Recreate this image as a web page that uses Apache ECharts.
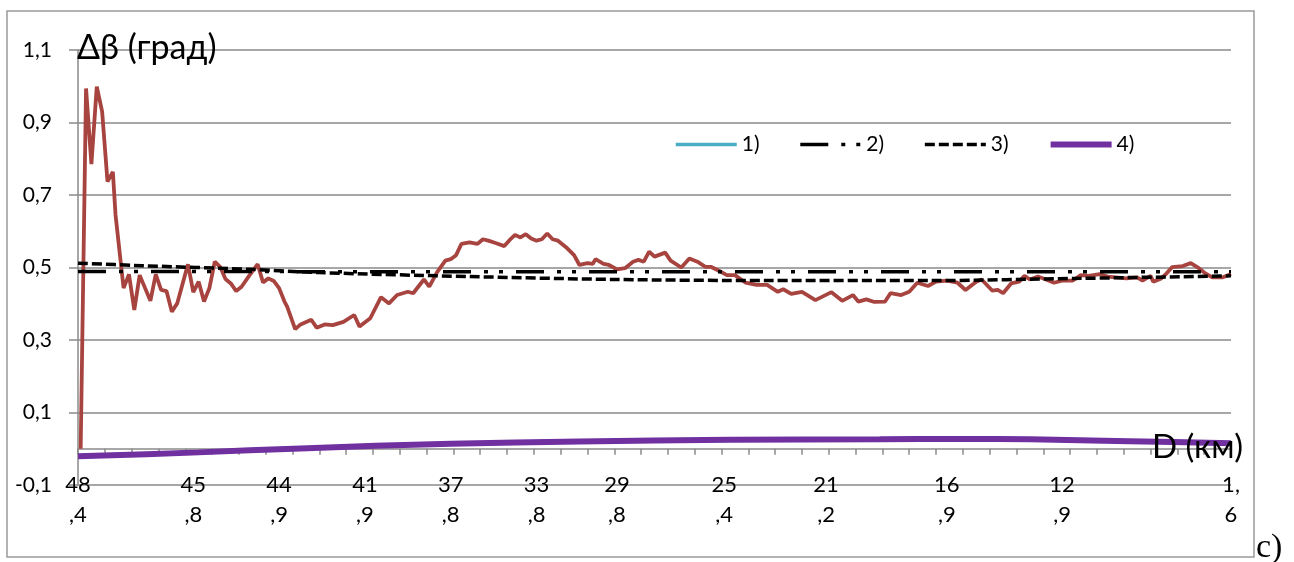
<!DOCTYPE html>
<html>
<head>
<meta charset="utf-8">
<script src="https://cdn.jsdelivr.net/npm/echarts@6/dist/echarts.min.js"></script>
<style>
html,body{margin:0;padding:0;background:#fff;}
#c{width:1294px;height:562px;}
</style>
</head>
<body>
<div id="c"></div>
<script>
// Category axis: sample index along distance D (48,4 km -> 1,6 km)
const nCats = 431;
const dLabels = ['48,4','45,8','44,9','41,9','37,8','33,8','29,8','25,4','21,2','16,9','12,9','1,6'];
const dLabelIdx = [0, 43, 75, 107, 139, 171, 201, 241, 279, 324, 367, 430];
const yTicks = [-0.1, 0.1, 0.3, 0.5, 0.7, 0.9, 1.1];

// Measured Δβ (red), [index, value]
const measured = [
  [1,0.0],[3,0.994],[5,0.785],[7,0.999],[9,0.930],[11,0.737],[13,0.764],[14,0.645],[17,0.443],[19,0.481],
  [21,0.383],[23,0.479],[24,0.461],[27,0.408],[29,0.481],[31,0.438],[33,0.435],[35,0.378],[37,0.401],[41,0.509],
  [43,0.432],[45,0.461],[47,0.406],[49,0.443],[51,0.516],[53,0.502],[55,0.468],[57,0.456],[59,0.435],[61,0.447],
  [64,0.479],[67,0.509],[69,0.459],[71,0.470],[73,0.463],[75,0.443],[77,0.406],[78,0.392],[81,0.330],[83,0.343],
  [87,0.356],[89,0.334],[92,0.343],[95,0.341],[99,0.350],[103,0.369],[105,0.337],[109,0.360],[113,0.418],[116,0.401],
  [119,0.424],[123,0.433],[125,0.429],[129,0.467],[131,0.447],[134,0.488],[137,0.519],[139,0.523],[141,0.534],[143,0.565],
  [146,0.569],[149,0.565],[151,0.578],[153,0.574],[156,0.567],[159,0.559],[161,0.576],[163,0.590],[165,0.583],[167,0.592],
  [169,0.580],[171,0.574],[173,0.578],[175,0.594],[177,0.578],[179,0.574],[182,0.556],[185,0.534],[187,0.507],[190,0.512],
  [192,0.510],[193,0.523],[196,0.510],[198,0.507],[201,0.495],[204,0.498],[207,0.516],[209,0.521],[211,0.516],[213,0.544],
  [215,0.530],[219,0.541],[221,0.519],[225,0.500],[228,0.525],[231,0.516],[234,0.502],[236,0.502],[239,0.491],[242,0.479],
  [245,0.479],[249,0.458],[253,0.452],[257,0.452],[261,0.433],[263,0.440],[266,0.427],[270,0.433],[275,0.410],[281,0.432],
  [285,0.408],[289,0.424],[291,0.406],[294,0.412],[297,0.405],[301,0.406],[303,0.429],[307,0.424],[310,0.433],[313,0.458],
  [317,0.449],[320,0.461],[324,0.464],[328,0.458],[331,0.438],[335,0.461],[337,0.467],[341,0.436],[343,0.438],[345,0.429],
  [348,0.456],[351,0.461],[353,0.477],[355,0.467],[358,0.475],[361,0.467],[364,0.458],[367,0.464],[371,0.464],[374,0.479],
  [377,0.477],[381,0.482],[384,0.475],[387,0.473],[391,0.470],[395,0.473],[397,0.464],[400,0.477],[401,0.461],[404,0.470],
  [406,0.484],[408,0.501],[412,0.504],[415,0.512],[418,0.498],[420,0.486],[423,0.473],[427,0.473],[430,0.482]
];
// Series 1) (teal) - not visible in the plot area
const series1 = [];
// Series 2) dash-dot-dot
const series2 = [[0,0.489],[215,0.488],[430,0.488]];
// Series 3) dashed
const series3 = [[0,0.512],[24,0.505],[64,0.495],[90,0.486],[146,0.475],[200,0.467],[258,0.464],[318,0.464],[374,0.470],[430,0.477]];
// Series 4) purple
const series4 = [[0,-0.021],[45,-0.010],[83,0.001],[139,0.014],[187,0.020],[243,0.025],[299,0.026],[329,0.027],[355,0.026],[392,0.021],[430,0.015]];

const categories = Array.from({length: nCats}, (_, i) => String(i));
const FONT = 'Lato';
const GRID = '#8a8a8a';

const chart = echarts.init(document.getElementById('c'), null, {renderer: 'canvas'});
chart.setOption({
  animation: false,
  backgroundColor: '#fff',
  grid: {left: 78, right: 63, top: 50, bottom: 77, containLabel: false, outerBoundsMode: 'none'},
  legend: {
    data: ['1)', '2)', '3)', '4)'],
    left: 669, top: 129, padding: 5,
    itemWidth: 61, itemHeight: 14, itemGap: 39,
    itemStyle: {opacity: 0, color: 'rgba(0,0,0,0)', borderWidth: 0},
    lineStyle: {width: 'inherit'},
    textStyle: {fontFamily: FONT, fontSize: 21, color: '#000'}
  },
  xAxis: {
    type: 'category',
    data: categories,
    boundaryGap: false,
    axisLine: {onZero: true, lineStyle: {color: GRID, width: 1.5}},
    axisTick: {show: true, interval: 9, length: 6, lineStyle: {color: GRID, width: 1.5}},
    axisLabel: {
      interval: (i) => dLabelIdx.indexOf(i) >= 0,
      formatter: (v, i) => {
        const k = dLabelIdx.indexOf(i);
        if (k < 0) return '';
        const s = dLabels[k];
        return s.slice(0, 2) + '\n' + s.slice(2);
      },
      margin: -15,
      fontFamily: FONT, fontSize: 22, color: '#000', lineHeight: 30,
      showMinLabel: true, showMaxLabel: true, hideOverlap: false
    },
    splitLine: {show: false}
  },
  yAxis: {
    type: 'value',
    min: yTicks[0], max: yTicks[yTicks.length - 1], interval: 0.2,
    axisLine: {show: true, lineStyle: {color: GRID, width: 1.5}},
    axisTick: {show: true, length: 9, lineStyle: {color: GRID, width: 1.5}},
    axisLabel: {
      margin: 26,
      formatter: (v) => v.toFixed(1).replace('.', ','),
      fontFamily: FONT, fontSize: 21, color: '#000'
    },
    splitLine: {show: true, lineStyle: {color: GRID, width: 1.5}}
  },
  series: [
    {name: 'measured', type: 'line', data: measured, symbol: 'none',
     lineStyle: {color: '#A8443F', width: 3.8}, itemStyle: {color: '#A8443F'}},
    {name: '1)', type: 'line', data: series1, symbol: 'none',
     lineStyle: {color: '#4BACC6', width: 3.5}, itemStyle: {color: '#4BACC6'}},
    {name: '2)', type: 'line', data: series2, symbol: 'none',
     lineStyle: {color: '#000', width: 3.5, type: [28, 13, 4, 11, 4, 13]}, itemStyle: {color: '#000'}},
    {name: '3)', type: 'line', data: series3, symbol: 'none', smooth: 0.3,
     lineStyle: {color: '#000', width: 3.5, type: [10, 4]}, itemStyle: {color: '#000'}},
    {name: '4)', type: 'line', data: series4, symbol: 'none', smooth: 0.3,
     lineStyle: {color: '#7030A0', width: 6}, itemStyle: {color: '#7030A0'}}
  ],
  graphic: [
    {type: 'rect', shape: {x: 7, y: 11, width: 1247, height: 546}, silent: true, z: -10,
     style: {fill: 'none', stroke: '#9a9a9a', lineWidth: 1.5}},
    {type: 'text', left: 77, top: 31, z: 10,
     style: {text: 'Δβ (град)', fontFamily: FONT, fontSize: 34, fill: '#000'}},
    {type: 'text', left: 1152, top: 431, z: 10,
     style: {text: 'D (км)', fontFamily: FONT, fontSize: 33, fill: '#000'}},
    {type: 'text', left: 1256, top: 531, z: 10,
     style: {text: 'c)', fontFamily: 'Liberation Serif', fontSize: 34, fill: '#000'}}
  ]
});
</script>
</body>
</html>
